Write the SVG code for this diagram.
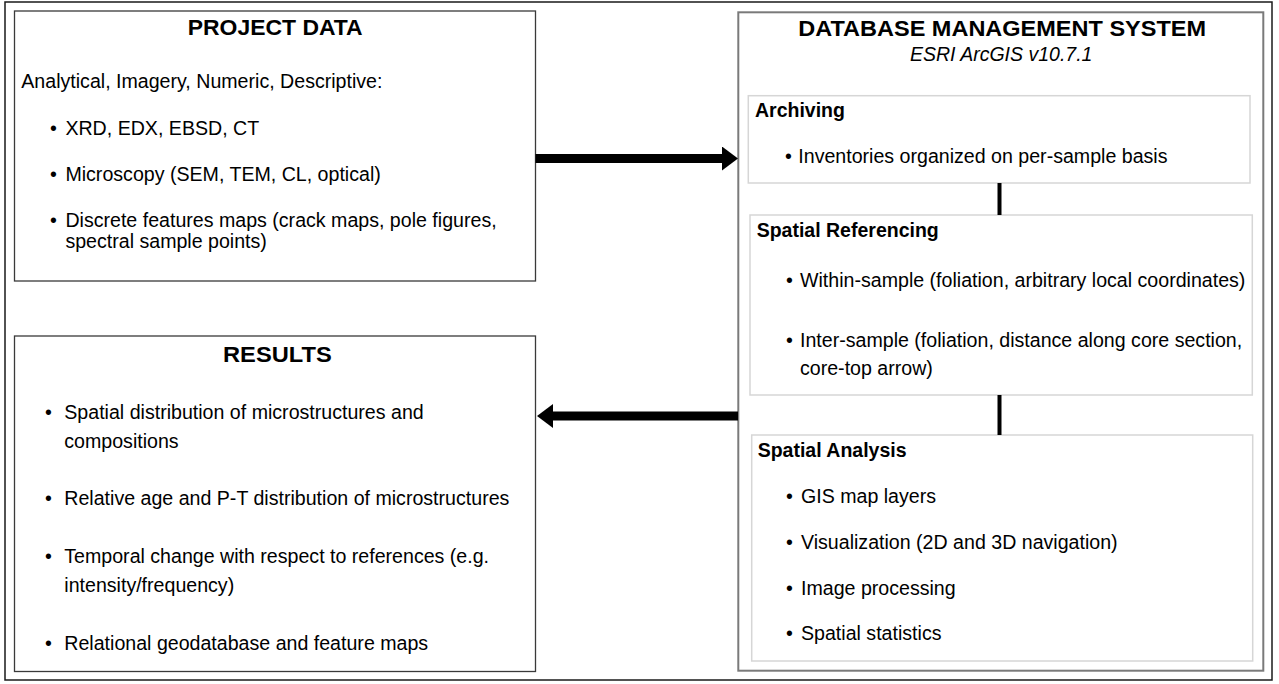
<svg xmlns="http://www.w3.org/2000/svg" width="1279" height="684" viewBox="0 0 1279 684">
<defs>
<style>
.t{font-family:"Liberation Sans",Arial,sans-serif;font-size:19.6px;fill:#000}
.b{font-family:"Liberation Sans",Arial,sans-serif;font-size:19.5px;font-weight:bold;fill:#000}
.h{font-family:"Liberation Sans",Arial,sans-serif;font-size:21.5px;font-weight:bold;fill:#000}
.i{font-family:"Liberation Sans",Arial,sans-serif;font-size:19.5px;font-style:italic;fill:#000}
.main{fill:#fff;stroke:#3a3a3a;stroke-width:1.3}
.dbms{fill:#fff;stroke:#7a7a7a;stroke-width:2}
.sub{fill:#fff;stroke:#d6d6d6;stroke-width:1.5}
.arrow{stroke:#000;stroke-width:9;fill:none}
.link{stroke:#000;stroke-width:4;fill:none}
</style>
<marker id="ah" markerUnits="userSpaceOnUse" viewBox="0 0 16 24" markerWidth="16" markerHeight="24" refX="0" refY="12" orient="auto">
<path d="M0,0 L16,12 L0,24 z" fill="#000"/>
</marker>
</defs>
<rect x="0" y="0" width="1279" height="684" fill="#fff"/>
<rect x="5" y="2" width="1267" height="678" fill="none" stroke="#1a1a1a" stroke-width="1.5"/>

<g id="project-data">
<rect class="main" x="14.5" y="11" width="521" height="270"/>
<text class="h" x="187.7" y="35" textLength="175" lengthAdjust="spacingAndGlyphs">PROJECT DATA</text>
<text class="t" x="21.3" y="88.3">Analytical, Imagery, Numeric, Descriptive:</text>
<text class="t" x="50" y="135">•</text><text class="t" x="65.4" y="135">XRD, EDX, EBSD, CT</text>
<text class="t" x="50" y="181">•</text><text class="t" x="65.4" y="181">Microscopy (SEM, TEM, CL, optical)</text>
<text class="t" x="50" y="226.7">•</text><text class="t" x="65.4" y="226.7">Discrete features maps (crack maps, pole figures,</text>
<text class="t" x="65.4" y="248.3">spectral sample points)</text>
</g>

<g id="results">
<rect class="main" x="14.5" y="336" width="521" height="335.5"/>
<text class="h" x="223" y="361.7" textLength="108.7" lengthAdjust="spacingAndGlyphs">RESULTS</text>
<text class="t" x="45" y="419.3">•</text><text class="t" x="64.3" y="419.3">Spatial distribution of microstructures and</text>
<text class="t" x="64.3" y="447.7">compositions</text>
<text class="t" x="45" y="505">•</text><text class="t" x="64.3" y="505">Relative age and P-T distribution of microstructures</text>
<text class="t" x="45" y="563.3">•</text><text class="t" x="64.3" y="563.3">Temporal change with respect to references (e.g.</text>
<text class="t" x="64.3" y="591.7">intensity/frequency)</text>
<text class="t" x="45" y="650">•</text><text class="t" x="64.3" y="650">Relational geodatabase and feature maps</text>
</g>

<g id="dbms">
<rect class="dbms" x="738.3" y="12.3" width="525" height="658.4"/>
<text class="h" x="798.3" y="36" textLength="407.7" lengthAdjust="spacingAndGlyphs">DATABASE MANAGEMENT SYSTEM</text>
<text class="i" x="910" y="61">ESRI ArcGIS v10.7.1</text>
</g>

<g id="archiving">
<rect class="sub" x="748.3" y="95.7" width="501.7" height="87.3"/>
<text class="b" x="755" y="116.7">Archiving</text>
<text class="t" x="785" y="163.3">•</text><text class="t" x="798.3" y="163.3">Inventories organized on per-sample basis</text>
</g>

<g id="spatial-referencing">
<rect class="sub" x="750" y="215" width="502.3" height="180"/>
<text class="b" x="756.7" y="236.7">Spatial Referencing</text>
<text class="t" x="786" y="287.3">•</text><text class="t" x="800" y="287.3">Within-sample (foliation, arbitrary local coordinates)</text>
<text class="t" x="786" y="346.7">•</text><text class="t" x="800" y="346.7">Inter-sample (foliation, distance along core section,</text>
<text class="t" x="800" y="375">core-top arrow)</text>
</g>

<g id="spatial-analysis">
<rect class="sub" x="751.7" y="435" width="501" height="226"/>
<text class="b" x="757.7" y="456.7">Spatial Analysis</text>
<text class="t" x="786" y="503.3">•</text><text class="t" x="801" y="503.3">GIS map layers</text>
<text class="t" x="786" y="549">•</text><text class="t" x="801" y="549">Visualization (2D and 3D navigation)</text>
<text class="t" x="786" y="595">•</text><text class="t" x="801" y="595">Image processing</text>
<text class="t" x="786" y="640">•</text><text class="t" x="801" y="640">Spatial statistics</text>
</g>

<g id="connectors">
<line class="arrow" x1="535.5" y1="158.5" x2="722" y2="158.5" marker-end="url(#ah)"/>
<line class="arrow" x1="738" y1="416" x2="553" y2="416" marker-end="url(#ah)"/>
<line class="link" x1="999.5" y1="183" x2="999.5" y2="215"/>
<line class="link" x1="999.5" y1="395" x2="999.5" y2="435"/>
</g>
</svg>
